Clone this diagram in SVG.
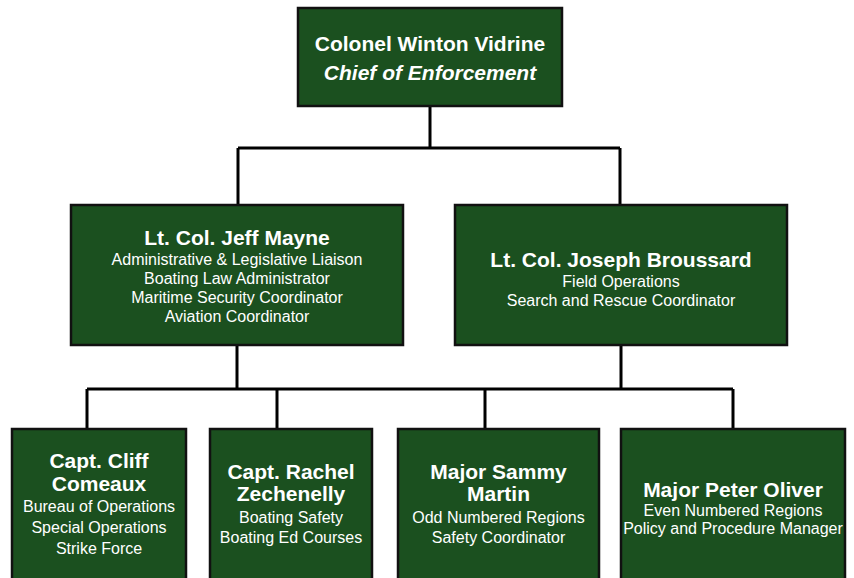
<svg xmlns="http://www.w3.org/2000/svg" width="854" height="578" viewBox="0 0 854 578">
<style>
.box{fill:#1B501F;stroke:#111;stroke-width:2.5}
.t{font-family:"Liberation Sans",Arial,sans-serif;fill:#fff;text-anchor:middle}
.h{font-size:21px;font-weight:bold}
.hi{font-size:21px;font-weight:bold;font-style:italic}
.s{font-size:16px}
.c{fill:none;stroke:#000;stroke-width:3}
</style>
<rect width="854" height="578" fill="#fff"/>
<g id="connectors">
<path class="c" d="M430 107V148M238 148H620M238 148V204M620 148V204"/>
<path class="c" d="M237 346V389M621 346V389M87 389H733M87 389V428M277 389V428M485 389V428M733 389V428"/>
</g>
<g id="chief">
<rect class="box" x="298" y="8" width="264" height="98"/>
<text class="t h" x="430" y="51">Colonel Winton Vidrine</text>
<text class="t hi" x="430" y="80">Chief of Enforcement</text>
</g>
<g id="mayne">
<rect class="box" x="71" y="205" width="332" height="140"/>
<text class="t h" x="237" y="245">Lt. Col. Jeff Mayne</text>
<text class="t s" x="237" y="265">Administrative &amp; Legislative Liaison</text>
<text class="t s" x="237" y="284">Boating Law Administrator</text>
<text class="t s" x="237" y="303">Maritime Security Coordinator</text>
<text class="t s" x="237" y="322">Aviation Coordinator</text>
</g>
<g id="broussard">
<rect class="box" x="455" y="205" width="332" height="140"/>
<text class="t h" x="621" y="267">Lt. Col. Joseph Broussard</text>
<text class="t s" x="621" y="287">Field Operations</text>
<text class="t s" x="621" y="305.5">Search and Rescue Coordinator</text>
</g>
<g id="comeaux">
<rect class="box" x="12" y="429" width="174" height="170"/>
<text class="t h" x="99" y="468">Capt. Cliff</text>
<text class="t h" x="99" y="491">Comeaux</text>
<text class="t s" x="99" y="512">Bureau of Operations</text>
<text class="t s" x="99" y="533">Special Operations</text>
<text class="t s" x="99" y="554">Strike Force</text>
</g>
<g id="zechenelly">
<rect class="box" x="210" y="429" width="162" height="170"/>
<text class="t h" x="291" y="478.5">Capt. Rachel</text>
<text class="t h" x="291" y="500.5">Zechenelly</text>
<text class="t s" x="291" y="522.5">Boating Safety</text>
<text class="t s" x="291" y="543">Boating Ed Courses</text>
</g>
<g id="martin">
<rect class="box" x="398" y="429" width="201" height="170"/>
<text class="t h" x="498.5" y="478.5">Major Sammy</text>
<text class="t h" x="498.5" y="500.5">Martin</text>
<text class="t s" x="498.5" y="522.5">Odd Numbered Regions</text>
<text class="t s" x="498.5" y="543">Safety Coordinator</text>
</g>
<g id="oliver">
<rect class="box" x="621" y="429" width="224" height="170"/>
<text class="t h" x="733" y="496.5">Major Peter Oliver</text>
<text class="t s" x="733" y="515.5">Even Numbered Regions</text>
<text class="t s" x="733" y="534">Policy and Procedure Manager</text>
</g>
</svg>
